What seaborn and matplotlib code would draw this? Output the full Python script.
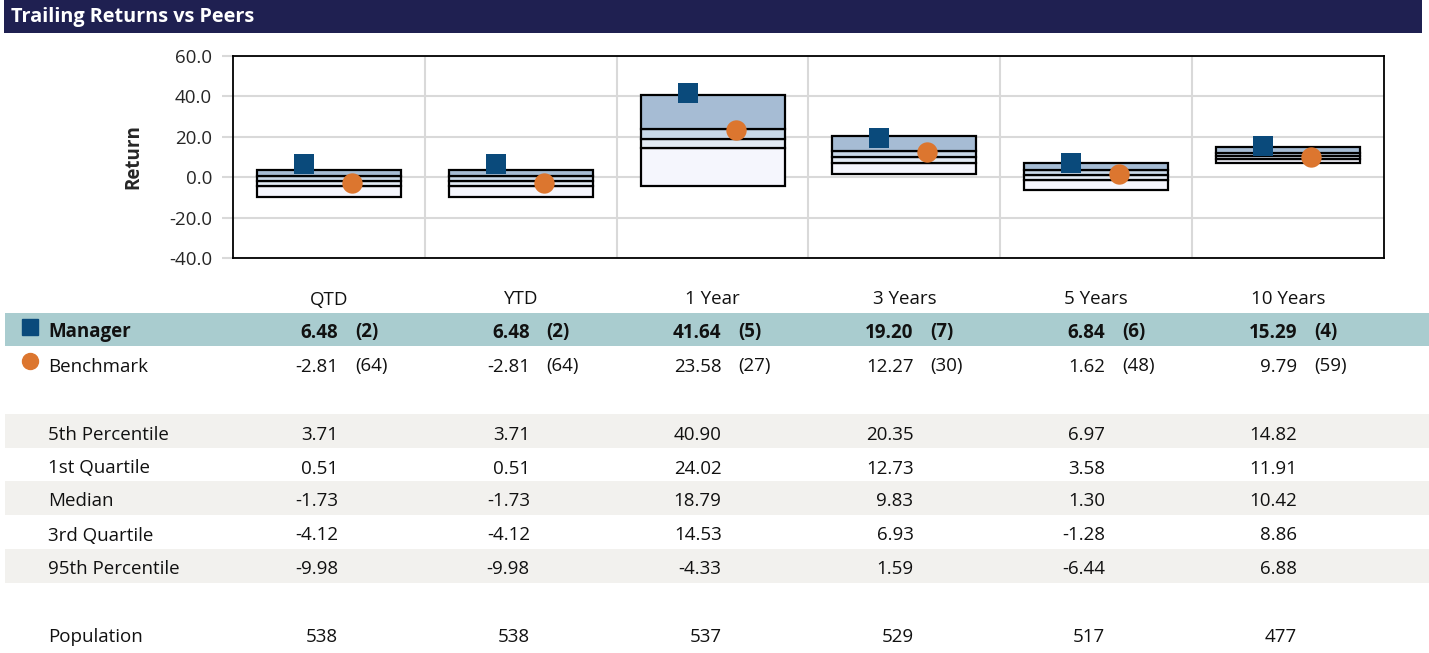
import numpy as np
import pandas as pd
import matplotlib
matplotlib.use("Agg")
import matplotlib.pyplot as plt
import matplotlib.transforms as mtransforms
from matplotlib.patches import Rectangle
import seaborn as sns

# ---- data -------------------------------------------------------------
periods = ["QTD", "YTD", "1 Year", "3 Years", "5 Years", "10 Years"]
manager = [6.48, 6.48, 41.64, 19.20, 6.84, 15.29]
manager_rank = [2, 2, 5, 7, 6, 4]
benchmark = [-2.81, -2.81, 23.58, 12.27, 1.62, 9.79]
benchmark_rank = [64, 64, 27, 30, 48, 59]
pct_05 = [3.71, 3.71, 40.90, 20.35, 6.97, 14.82]
pct_25 = [0.51, 0.51, 24.02, 12.73, 3.58, 11.91]
pct_50 = [-1.73, -1.73, 18.79, 9.83, 1.30, 10.42]
pct_75 = [-4.12, -4.12, 14.53, 6.93, -1.28, 8.86]
pct_95 = [-9.98, -9.98, -4.33, 1.59, -6.44, 6.88]
population = [538, 538, 537, 529, 517, 477]
y_ticks = [-40, -20, 0, 20, 40, 60]

# ---- style ------------------------------------------------------------
NAVY = "#1f2051"
MGR = "#0a4a7b"
BMK = "#dc762f"
TEAL = "#a9cccf"
BAND = "#f2f1ee"
GRID = "#d9d9d9"
SEG_COLORS = ["#f5f6fd", "#e2eaf4", "#c8d8e8", "#a6bcd4"]  # bottom -> top
FS = 13.5
DY = 1.5  # baseline nudge for table text

sns.set_theme(style="white")
plt.rcParams["font.family"] = ["Open Sans", "DejaVu Sans"]
plt.rcParams["text.color"] = "#111111"

W, H = 1429, 653
fig = plt.figure(figsize=(W / 100, H / 100), dpi=100)

# pixel-space overlay for the header and the statistics table
tab = fig.add_axes([0, 0, 1, 1], zorder=0)
tab.set_xlim(0, W)
tab.set_ylim(H, 0)
tab.axis("off")

ax = fig.add_axes([233 / W, 1 - 258 / H, 1151 / W, 202 / H], zorder=1)

# ---- floating percentile boxes ----------------------------------------
x = np.arange(len(periods))
edges = [pct_95, pct_75, pct_50, pct_25, pct_05]
for k in range(4):
    lo = np.array(edges[k])
    hi = np.array(edges[k + 1])
    ax.bar(x, hi - lo, bottom=lo, width=0.75, color=SEG_COLORS[k],
           edgecolor="black", linewidth=1.6, zorder=2)

pts = pd.DataFrame({
    "period": periods,
    "pos": x,
    "Manager": manager,
    "Benchmark": benchmark,
})
sns.scatterplot(data=pts, x=pts["pos"] - 0.13, y="Manager", marker="s",
                s=215, color=MGR, linewidth=0, ax=ax, zorder=4)
sns.scatterplot(data=pts, x=pts["pos"] + 0.12, y="Benchmark", marker="o",
                s=215, color=BMK, linewidth=0, ax=ax, zorder=5)

ax.set_xlim(-0.5, len(periods) - 0.5)
ax.set_ylim(-40, 60)
ax.set_yticks(y_ticks)
ax.set_yticklabels([f"{v:.1f}" for v in y_ticks], fontsize=FS)
ax.set_xticks(x)
ax.set_xticklabels([])
ax.set_xticks(x[:-1] + 0.5, minor=True)
ax.grid(False)
ax.yaxis.grid(True, which="major", color=GRID, linewidth=1.5, zorder=0)
ax.xaxis.grid(True, which="minor", color=GRID, linewidth=1.5, zorder=0)
ax.set_axisbelow(True)
ax.tick_params(axis="y", which="major", length=8, width=1.5, color=GRID,
               pad=7, left=True)
ax.tick_params(axis="x", which="both", length=0)
ax.set_xlabel("")
ax.set_ylabel("Return", fontsize=FS, fontweight="bold")
ax.yaxis.set_label_coords(-(233 - 143) / 1151, 0.5)
for sp in ax.spines.values():
    sp.set_visible(True)
    sp.set_color("black")
    sp.set_linewidth(1.3)

# ---- header bar -------------------------------------------------------
tab.add_patch(Rectangle((4, 0), 1418, 33, color=NAVY, lw=0))
tab.text(11, 17, "Trailing Returns vs Peers", color="white", fontsize=14.3,
         fontweight="bold", va="center", ha="left")

# ---- table ------------------------------------------------------------
colx = mtransforms.blended_transform_factory(ax.transData, tab.transData)

for i, p in enumerate(periods):
    tab.text(i, 298 + DY, p, transform=colx, ha="center", va="center",
             fontsize=FS)

tab.add_patch(Rectangle((5, 313), 1424, 33, color=TEAL, lw=0))
for top in (414, 481, 549):
    tab.add_patch(Rectangle((5, top), 1424, 34, color=BAND, lw=0))

LABEL_X = 48
VAL_OFF = 0.047
RANK_OFF = 0.135

# legend markers
tab.plot([30], [327], marker="s", markersize=11.5, color=MGR, lw=0)
tab.plot([30], [361], marker="o", markersize=11.5, color=BMK, lw=0)

tab.text(LABEL_X, 331 + DY, "Manager", fontsize=FS, fontweight="bold",
         va="center")
tab.text(LABEL_X, 365 + DY, "Benchmark", fontsize=FS, va="center")
for i in range(len(periods)):
    tab.text(i + VAL_OFF, 331 + DY, f"{manager[i]:.2f}", transform=colx,
             ha="right", va="center", fontsize=FS, fontweight="bold")
    tab.text(i + RANK_OFF, 331 + DY, f"({manager_rank[i]})", transform=colx,
             ha="left", va="center", fontsize=FS, fontweight="bold")
    tab.text(i + VAL_OFF, 365 + DY, f"{benchmark[i]:.2f}", transform=colx,
             ha="right", va="center", fontsize=FS)
    tab.text(i + RANK_OFF, 365 + DY, f"({benchmark_rank[i]})",
             transform=colx, ha="left", va="center", fontsize=FS)

stat_rows = [
    ("5th Percentile", pct_05, 433),
    ("1st Quartile", pct_25, 467),
    ("Median", pct_50, 500),
    ("3rd Quartile", pct_75, 534),
    ("95th Percentile", pct_95, 568),
]
for name, vals, yy in stat_rows:
    tab.text(LABEL_X, yy + DY, name, fontsize=FS, va="center")
    for i, v in enumerate(vals):
        tab.text(i + VAL_OFF, yy + DY, f"{v:.2f}", transform=colx,
                 ha="right", va="center", fontsize=FS)

tab.text(LABEL_X, 635 + DY, "Population", fontsize=FS, va="center")
for i, n in enumerate(population):
    tab.text(i + VAL_OFF, 635 + DY, f"{n}", transform=colx, ha="right",
             va="center", fontsize=FS)

fig.savefig("out.png", dpi=100)
